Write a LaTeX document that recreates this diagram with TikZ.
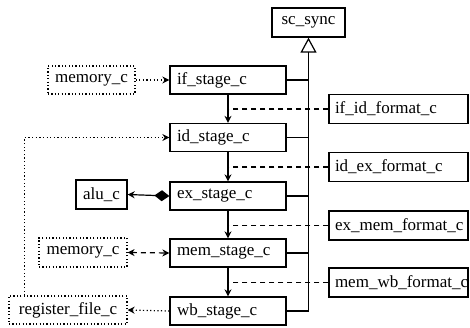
\documentclass[tikz,border=0pt]{standalone}
\usepackage{fontspec}
\setmainfont{Liberation Serif}
\usetikzlibrary{arrows.meta,calc}
\begin{document}
\begin{tikzpicture}[x=1pt,y=-1pt,
  every node/.style={font=\fontsize{17}{19}\selectfont},
  box/.style={draw,line width=1.3pt,rectangle,inner sep=0pt,minimum height=28pt},
  stagebox/.style={box,text width=102pt,inner xsep=7pt,align=left,minimum height=28pt},
  fmtbox/.style={box,text width=127pt,inner xsep=6pt,align=left,minimum height=29pt},
  dotbox/.style={box,line width=1.2pt,dash pattern=on 1.2pt off 2.2pt},
  ln/.style={line width=1.2pt},
  dotln/.style={line width=1.2pt,dash pattern=on 1.2pt off 2.4pt},
  dashln/.style={line width=1.2pt,dash pattern=on 5pt off 4pt},
  >={Stealth[open,length=7pt,width=7pt]}
]
\useasboundingbox (0,0) rectangle (470,327);
% inherited base
\node[box,minimum width=73pt,minimum height=29pt] (sc) at (308.5,22.5) {sc\_sync};
% stages
\node[stagebox] (if) at (228,80) {if\_stage\_c};
\node[stagebox] (id) at (228,137.5) {id\_stage\_c};
\node[stagebox] (ex) at (228,196) {ex\_stage\_c};
\node[stagebox] (mem) at (228,253) {mem\_stage\_c};
\node[stagebox] (wb) at (228,311) {wb\_stage\_c};
% formats
\node[fmtbox] (f1) at (398.5,109) {if\_id\_format\_c};
\node[fmtbox] (f2) at (398.5,167) {id\_ex\_format\_c};
\node[fmtbox] (f3) at (398.5,225.5) {ex\_mem\_format\_c};
\node[fmtbox] (f4) at (398.5,282.5) {mem\_wb\_format\_c};
% left side
\node[dotbox,minimum width=87pt] (m1) at (91.5,80) {memory\_c};
\node[box,minimum width=51pt,minimum height=29pt] (alu) at (101.5,194.5) {alu\_c};
\node[dotbox,minimum width=88pt,minimum height=29pt] (m2) at (83,252.5) {memory\_c};
\node[dotbox,minimum width=118pt] (rf) at (68,310) {register\_file\_c};
% inheritance
\draw[ln,-{Triangle[open,length=15pt,width=16pt]}] (wb.east) -| (sc.south);
\foreach \s in {if,id,ex,mem} \draw[ln] (\s.east) -- (\s.east -| sc.south);
% pipeline arrows
\draw[ln,->] (if.south) -- (id.north);
\draw[ln,->] (id.south) -- (ex.north);
\draw[ln,->] (ex.south) -- (mem.north);
\draw[ln,->] (mem.south) -- (wb.north);
% format dashed links
\draw[dashln] (f1.west) -- (f1.west -| if.south);
\draw[dashln] (f2.west) -- (f2.west -| id.south);
\draw[dashln] (f3.west) -- (f3.west -| ex.south);
\draw[dashln] (f4.west) -- (f4.west -| mem.south);
% left links
\draw[dotln,->] (m1.east) -- (if.west);
\coordinate (rftap) at ($(rf.north west)+(16,0)$);
\draw[dotln,->] (rftap) |- (id.west);
\draw[ln,{Stealth[open,length=7pt,width=7pt]}-{Diamond[length=15pt,width=11pt]}] (alu.east) -- (ex.west);
\draw[dashln,<->] (m2.east) -- (mem.west);
\draw[dotln,->] (wb.west) -- (rf.east);
\end{tikzpicture}
\end{document}
